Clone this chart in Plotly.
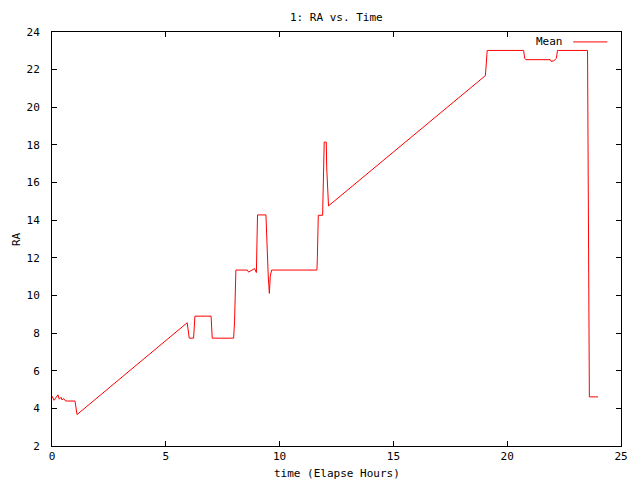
import plotly.graph_objects as go

# Elapsed hours and mean RA
hours = [0.00, 0.09, 0.26, 0.32, 0.40, 0.44, 0.51, 0.60, 1.01, 1.10,
         5.94, 6.03, 6.22, 6.28, 6.99, 7.04, 7.98, 8.02, 8.08, 8.58,
         8.64, 8.90, 8.98, 9.00, 9.03, 9.40, 9.42, 9.45, 9.50, 9.55,
         9.59, 9.65, 11.64, 11.66, 11.68, 11.70, 11.89, 11.91, 11.96, 12.05,
         12.07, 12.15, 19.04, 19.08, 19.12, 20.72, 20.77, 20.82, 21.89, 21.93,
         22.05, 22.16, 22.21, 23.53, 23.55, 23.59, 23.61, 23.99]
ra_mean = [4.65, 4.43, 4.72, 4.49, 4.59, 4.45, 4.52, 4.39, 4.39, 3.67,
           8.55, 7.73, 7.73, 8.90, 8.90, 7.73, 7.73, 8.60, 11.35, 11.35,
           11.24, 11.43, 11.22, 12.80, 14.28, 14.28, 13.53, 12.06, 11.03, 10.11,
           11.03, 11.35, 11.35, 12.03, 13.52, 14.26, 14.26, 15.25, 18.15, 18.15,
           16.78, 14.76, 21.68, 22.30, 23.02, 23.02, 22.60, 22.53, 22.53, 22.44,
           22.47, 22.60, 23.02, 23.02, 18.44, 9.17, 4.61, 4.61]

x_ticks = [0, 5, 10, 15, 20, 25]
y_ticks = [2, 4, 6, 8, 10, 12, 14, 16, 18, 20, 22, 24]

title_text = "1: RA vs. Time"
x_title = "time (Elapse Hours)"
y_title = "RA"
series_name = "Mean"

FONT = "DejaVu Sans Mono"

fig = go.Figure()
fig.add_trace(go.Scatter(x=hours, y=ra_mean, mode="lines", name=series_name,
                         line=dict(color="#ff0000", width=1), showlegend=False))

axis_common = dict(showline=True, linecolor="black", linewidth=1, mirror="ticks",
                   ticks="inside", ticklen=5, tickcolor="black", tickwidth=1,
                   showgrid=False, zeroline=False,
                   tickfont=dict(family=FONT, size=11, color="black"))

# The page body has an 8px margin, so the figure is sized to fill the
# 640x480 window from (8, 8).
fig.update_layout(
    width=632, height=472,
    paper_bgcolor="white", plot_bgcolor="white",
    margin=dict(l=44, r=19, t=24, b=34),
    font=dict(family=FONT, size=11, color="black"),
    xaxis=dict(range=[0, 25], tickvals=x_ticks, ticktext=[str(v) for v in x_ticks],
               **axis_common),
    yaxis=dict(range=[2, 24], tickvals=y_ticks, ticktext=[str(v) for v in y_ticks],
               ticklabelstandoff=9, **axis_common),
    annotations=[
        dict(text=title_text, x=0.5, y=1, xref="paper", yref="paper",
             xanchor="center", yanchor="bottom", yshift=6, showarrow=False,
             font=dict(family=FONT, size=11)),
        dict(text=x_title, x=0.5, y=0, xref="paper", yref="paper",
             xanchor="center", yanchor="top", yshift=-19, showarrow=False,
             font=dict(family=FONT, size=11)),
        dict(text=y_title, x=0, y=0.5, xref="paper", yref="paper",
             xanchor="center", yanchor="middle", xshift=-36, textangle=-90,
             showarrow=False, font=dict(family=FONT, size=11)),
        dict(text=series_name, x=0.902, y=0.976, xref="paper", yref="paper",
             xanchor="right", yanchor="middle", showarrow=False,
             font=dict(family=FONT, size=11)),
    ],
    shapes=[
        dict(type="line", xref="paper", yref="paper", x0=0.916, x1=0.976,
             y0=0.976, y1=0.976, line=dict(color="#ff0000", width=1)),
    ],
)

fig.write_html("out.html")
